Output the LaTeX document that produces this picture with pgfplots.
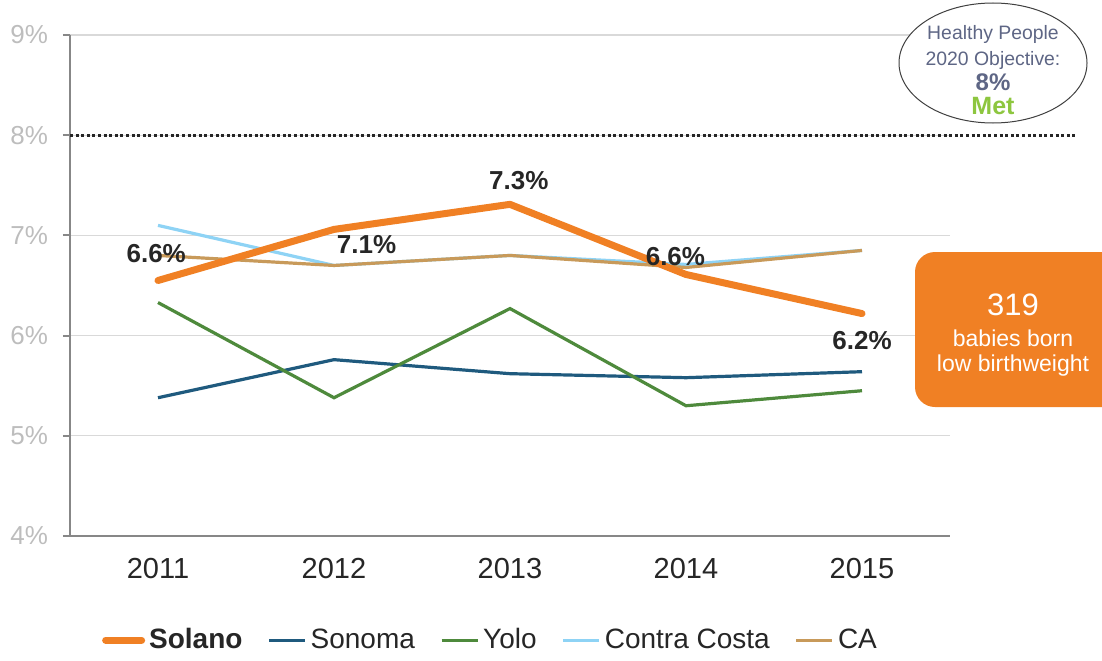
\documentclass[border=0pt]{standalone}
\usepackage{fontspec}
\setmainfont{Liberation Sans}
\usepackage{pgfplots}
\pgfplotsset{compat=1.18}
\definecolor{solano}{HTML}{F08024}
\definecolor{sonoma}{HTML}{1F5A7E}
\definecolor{yolo}{HTML}{4E8A3C}
\definecolor{contra}{HTML}{8ED3F5}
\definecolor{ca}{HTML}{C89A5A}
\definecolor{slate}{HTML}{5E6685}
\definecolor{metgreen}{HTML}{8DC63F}
\definecolor{axgray}{HTML}{878787}
\definecolor{gridgray}{HTML}{D9D9D9}
\definecolor{ticklab}{HTML}{BDBDBD}
\definecolor{txt}{HTML}{262626}
\begin{document}
\begin{tikzpicture}
\useasboundingbox (-35pt,-62pt) rectangle (516pt,268pt);
\begin{axis}[
  scale only axis, width=440pt, height=250.5pt,
  xmin=-0.5, xmax=4.5, ymin=4, ymax=9,
  xtick={0,1,2,3,4}, xticklabels={2011,2012,2013,2014,2015},
  ytick={4,5,6,7,8,9}, yticklabels={4\%,5\%,6\%,7\%,8\%,9\%},
  axis x line*=bottom, axis y line*=left,
  axis line style={axgray, line width=1pt, -},
  x tick style={draw=none},
  y tick style={axgray, line width=1pt},
  tick align=outside, major tick length=3.5pt,
  ymajorgrids, grid style={gridgray, line width=0.6pt},
  /pgf/number format/assume math mode=true,
  yticklabel style={font=\fontsize{13pt}{14pt}\selectfont, text=ticklab, xshift=-4pt},
  xticklabel style={font=\fontsize{14.5pt}{16pt}\selectfont, text=txt, yshift=-4pt},
  clip=false,
  legend columns=5,
  legend style={at={(0.479,-0.208)}, anchor=center, draw=none, inner sep=0pt,
    font=\fontsize{14pt}{16pt}\selectfont, text=txt,
    /tikz/every even column/.append style={column sep=10.5pt}},
  legend image code/.code={\draw[#1] (0pt,0pt) -- (18pt,0pt);},
]
\addlegendimage{solano, line width=3.5pt, line cap=round}
\addlegendentry{\textbf{Solano}}
\addlegendimage{sonoma, line width=1.6pt}
\addlegendentry{Sonoma}
\addlegendimage{yolo, line width=1.6pt}
\addlegendentry{Yolo}
\addlegendimage{contra, line width=1.6pt}
\addlegendentry{Contra Costa}
\addlegendimage{ca, line width=1.6pt}
\addlegendentry{CA}

% objective line
\addplot[forget plot, black!85, line width=1.5pt, dash pattern=on 1.5pt off 1.3pt] coordinates {(-0.5,8) (5.21,8)};

\addplot[forget plot, sonoma, line width=1.6pt] coordinates {(0,5.38) (1,5.76) (2,5.62) (3,5.58) (4,5.64)};
\addplot[forget plot, yolo, line width=1.6pt] coordinates {(0,6.33) (1,5.38) (2,6.27) (3,5.30) (4,5.45)};
\addplot[forget plot, contra, line width=1.6pt] coordinates {(0,7.10) (1,6.70) (2,6.80) (3,6.71) (4,6.85)};
\addplot[forget plot, ca, line width=1.6pt] coordinates {(0,6.80) (1,6.70) (2,6.80) (3,6.68) (4,6.85)};
\addplot[forget plot, solano, line width=3.5pt, line cap=round, line join=round] coordinates {(0,6.55) (1,7.06) (2,7.31) (3,6.61) (4,6.22)};

\begin{scope}[every node/.style={font=\bfseries\fontsize{13pt}{15pt}\selectfont, text=txt}]
\node at (axis cs:-0.01,6.82) {6.6\%};
\node at (axis cs:1.185,6.91) {7.1\%};
\node at (axis cs:2.05,7.55) {7.3\%};
\node at (axis cs:2.94,6.79) {6.6\%};
\node at (axis cs:4.0,5.95) {6.2\%};
\end{scope}
\end{axis}
% objective ellipse
\draw[black!75, line width=0.5pt, fill=white] (461.5pt,236.5pt) ellipse [x radius=47pt, y radius=30pt];
\node[text=slate, font=\fontsize{9.7pt}{11pt}\selectfont] at (461.5pt,251pt) {Healthy People};
\node[text=slate, font=\fontsize{9.7pt}{11pt}\selectfont] at (461.5pt,238pt) {2020 Objective:};
\node[text=slate, font=\bfseries\fontsize{12pt}{13pt}\selectfont] at (461.5pt,227pt) {8\%};
\node[text=metgreen, font=\bfseries\fontsize{12.5pt}{13pt}\selectfont] at (461.5pt,215pt) {Met};
% count box
\fill[solano, rounded corners=10pt] (422.5pt,64.5pt) rectangle (530pt,142pt);
\node[text=white, font=\fontsize{15.5pt}{17pt}\selectfont] at (471.5pt,115.5pt) {319};
\node[text=white, font=\fontsize{11.5pt}{13pt}\selectfont] at (471.5pt,99pt) {babies born};
\node[text=white, font=\fontsize{11.5pt}{13pt}\selectfont] at (471.5pt,85pt) {low birthweight};
\end{tikzpicture}
\end{document}
